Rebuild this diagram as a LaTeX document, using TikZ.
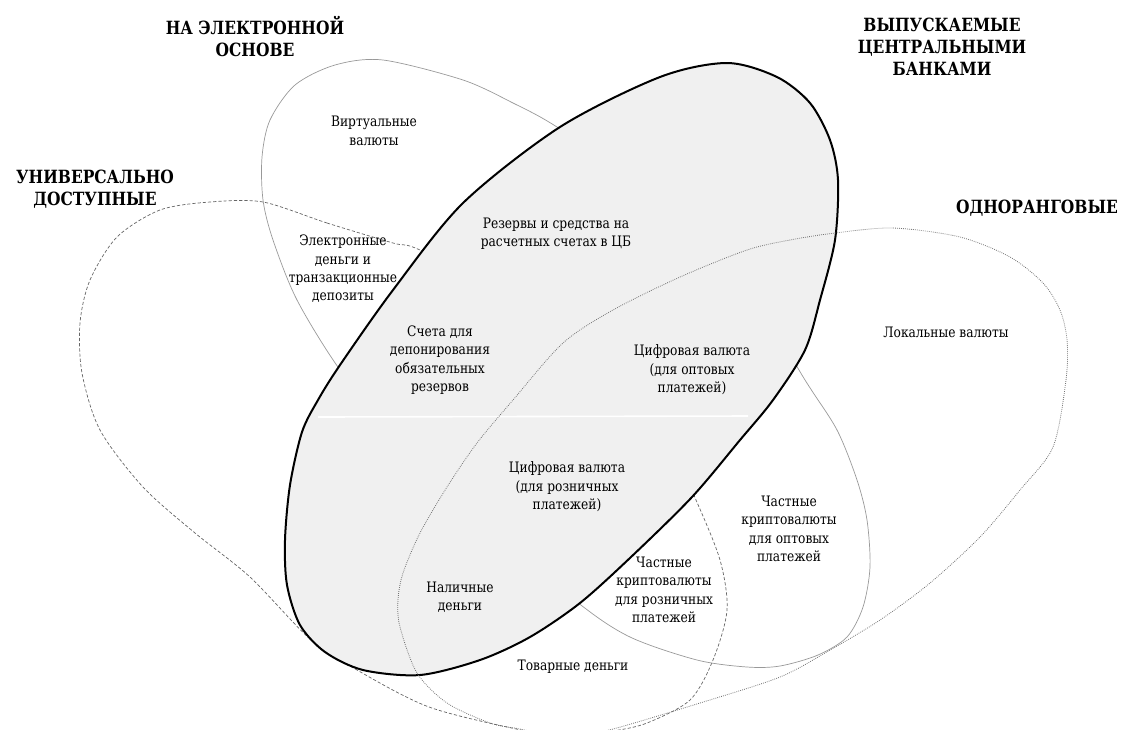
\documentclass[tikz,border=0pt]{standalone}
\usepackage{fontspec}
\setmainfont{DejaVu Serif}[FakeStretch=0.85]

\begin{document}
\begin{tikzpicture}[x=0.5pt, y=-0.5pt,
    lbl/.style={align=center, font=\fontsize{7.2}{9.2}\selectfont, inner sep=1pt},
    head/.style={align=center, font=\fontsize{9.1}{11}\selectfont\bfseries, inner sep=1pt},
    elecline/.style={draw=black!40, line width=0.35pt},
    univline/.style={draw=black!60, line width=0.35pt, dash pattern=on 1.6pt off 1pt},
    peerline/.style={draw=black!55, line width=0.4pt, dash pattern=on 0.4pt off 0.6pt},
    cbline/.style={draw=black, line width=1pt, fill=black!6}]

    \useasboundingbox (0,0) rectangle (1122,729);
    \clip (0,0) rectangle (1122,729);

    % Universally accessible petal
    \draw[univline] plot[smooth cycle] coordinates {
        (263,202) (327,223) (393,243) (420,250) (520,300) (610,375) (670,445)
        (696,500) (720,560) (727,610) (713,660) (690,700) (647,723) (613,731)
        (567,737) (521,730) (429,707) (357,670) (311,640) (250,577) (195,533)
        (143,487) (100,430) (82,373) (80,323) (90,280) (117,237) (160,210) (210,202)};

    % Electronic petal
    \draw[elecline] plot[smooth cycle] coordinates {
        (383,60) (463,80) (513,103) (557,127) (650,190) (740,275) (805,380)
        (837,430) (857,480) (867,520) (870,567) (863,607) (847,637) (818,655)
        (780,666) (747,667) (697,660) (630,637) (577,602) (480,520) (400,445)
        (340,370) (297,300) (273,240) (263,200) (262,157) (270,120) (295,85)
        (335,65)};

    % Central bank issued
    \draw[cbline] plot[smooth cycle] coordinates {
        (727,63) (777,77) (810,103) (830,140) (838,180) (835,240) (820,300)
        (805,350) (773,400) (740,440) (692,497) (631,557) (580,603) (530,637)
        (480,660) (420,675) (363,670) (325,652) (300,625) (287,585) (285,540)
        (290,485) (302,432) (318,400) (340,365) (393,290) (463,203) (560,127)
        (660,77)};
    \draw[white, line width=0.8pt] (318,417) -- (748,416);

    % Peer-to-peer petal
    \draw[peerline] plot[smooth cycle] coordinates {
        (835,233) (893,228) (960,237) (1010,257) (1043,283) (1060,310)
        (1067,340) (1066,380) (1053,447) (1020,490) (980,537) (930,583)
        (880,620) (830,650) (780,677) (700,703) (613,729) (567,738)
        (520,729) (490,723) (447,703) (417,673) (400,627) (398,600)
        (403,573) (420,533) (447,487) (477,443) (513,400) (563,343)
        (613,310) (680,277) (747,250) (790,240)};

    % Headings
    \node[head] (hElec) at (255,37) {НА ЭЛЕКТРОННОЙ\\ОСНОВЕ};
    \node[head] (hUniv) at (95,189) {УНИВЕРСАЛЬНО\\ДОСТУПНЫЕ};
    \node[head] (hCB) at (942,47) {ВЫПУСКАЕМЫЕ\\ЦЕНТРАЛЬНЫМИ\\БАНКАМИ};
    \node[head] (hPeer) at (1037,208) {ОДНОРАНГОВЫЕ};

    % Labels inside the regions
    \node[lbl] (virt) at (374,131) {Виртуальные\\валюты};
    \node[lbl] (emoney) at (343,269) {Электронные\\деньги и\\транзакционные\\депозиты};
    \node[lbl] (reserves) at (556,234) {Резервы и средства на\\расчетных счетах в ЦБ};
    \node[lbl] (reqres) at (440,360) {Счета для\\депонирования\\обязательных\\резервов};
    \node[lbl] (cbdcW) at (692,370) {Цифровая валюта\\(для оптовых\\платежей)};
    \node[lbl] (cbdcR) at (567,487) {Цифровая валюта\\(для розничных\\платежей)};
    \node[lbl] (cash) at (460,597) {Наличные\\деньги};
    \node[lbl] (commod) at (573,667) {Товарные деньги};
    \node[lbl] (cryptoR) at (664,590) {Частные\\криптовалюты\\для розничных\\платежей};
    \node[lbl] (cryptoW) at (789,529) {Частные\\криптовалюты\\для оптовых\\платежей};
    \node[lbl] (local) at (946,332) {Локальные валюты};
\end{tikzpicture}
\end{document}
